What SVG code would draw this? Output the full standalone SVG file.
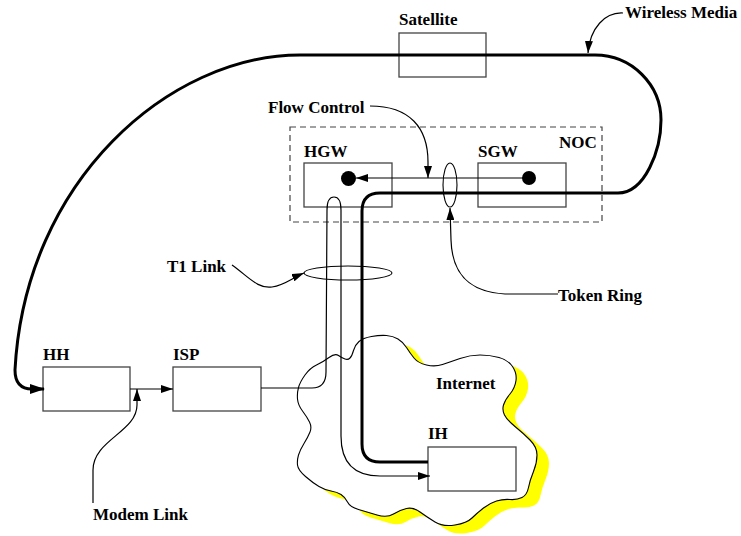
<svg xmlns="http://www.w3.org/2000/svg" width="741" height="536" viewBox="0 0 741 536">
<defs>
<style>
text{font-family:"Liberation Serif","Times New Roman",serif;font-weight:bold;font-size:17px;fill:#000}
.box{fill:#fff;stroke:#444;stroke-width:1.3}
.thin{fill:none;stroke:#000;stroke-width:1.2}
.thick{fill:none;stroke:#000;stroke-width:3}
</style>
<marker id="ar" markerUnits="userSpaceOnUse" markerWidth="12" markerHeight="8" refX="12" refY="4" orient="auto"><path d="M0,0 L12,4 L0,8 Z" fill="#000"/></marker>
<marker id="arb" markerUnits="userSpaceOnUse" markerWidth="15" markerHeight="10" refX="14" refY="5" orient="auto"><path d="M0,0 L15,5 L0,10 Z" fill="#000"/></marker>
</defs>
<rect width="741" height="536" fill="#fff"/>

<g id="internet">
<path id="cloud" d="M359,341.5 Q363,338 371.5,336.5 Q380,335 386.5,335.5 Q393,336 398,339 Q403,342 406.5,347.5 Q410,353 414,358 Q418,363 426.5,365 Q435,367 442.5,364.5 Q450,362 460,358.5 Q470,355 480,355 Q490,355 499,357.5 Q508,360 512.5,366.5 Q517,373 516,380.5 Q515,388 510,394 Q505,400 503.5,405 Q502,410 504.5,415 Q507,420 515,426.5 Q523,433 530,440 Q537,447 537,455 Q537,463 533.5,471.5 Q530,480 528.5,487.5 Q527,495 522,497.5 Q517,500 510,499.5 Q503,499 496.5,501 Q490,503 483.5,508 Q477,513 472,518 Q467,523 455,525 Q443,527 435,522 Q427,517 420,512 Q413,507 406.5,508.5 Q400,510 393.5,514 Q387,518 377,515 Q367,512 358.5,509.5 Q350,507 347.5,502 Q345,497 341,494.5 Q337,492 331,491 Q325,490 319,486.5 Q313,483 305.5,476.5 Q298,470 297.5,465 Q297,460 298.5,455 Q300,450 304,443.5 Q308,437 310,432 Q312,427 309.5,422 Q307,417 302.5,411 Q298,405 297.5,399 Q297,393 298.5,387.5 Q300,382 305,375 Q310,368 316.5,365 Q323,362 329,357.5 Q335,353 338.5,355.5 Q342,358 345,359 Q348,360 350,358 Q352,356 353.5,350.5 Q355,345 359,341.5 Z" fill="#ffff00" stroke="none" transform="translate(12,8)"/>
<path d="M359,341.5 Q363,338 371.5,336.5 Q380,335 386.5,335.5 Q393,336 398,339 Q403,342 406.5,347.5 Q410,353 414,358 Q418,363 426.5,365 Q435,367 442.5,364.5 Q450,362 460,358.5 Q470,355 480,355 Q490,355 499,357.5 Q508,360 512.5,366.5 Q517,373 516,380.5 Q515,388 510,394 Q505,400 503.5,405 Q502,410 504.5,415 Q507,420 515,426.5 Q523,433 530,440 Q537,447 537,455 Q537,463 533.5,471.5 Q530,480 528.5,487.5 Q527,495 522,497.5 Q517,500 510,499.5 Q503,499 496.5,501 Q490,503 483.5,508 Q477,513 472,518 Q467,523 455,525 Q443,527 435,522 Q427,517 420,512 Q413,507 406.5,508.5 Q400,510 393.5,514 Q387,518 377,515 Q367,512 358.5,509.5 Q350,507 347.5,502 Q345,497 341,494.5 Q337,492 331,491 Q325,490 319,486.5 Q313,483 305.5,476.5 Q298,470 297.5,465 Q297,460 298.5,455 Q300,450 304,443.5 Q308,437 310,432 Q312,427 309.5,422 Q307,417 302.5,411 Q298,405 297.5,399 Q297,393 298.5,387.5 Q300,382 305,375 Q310,368 316.5,365 Q323,362 329,357.5 Q335,353 338.5,355.5 Q342,358 345,359 Q348,360 350,358 Q352,356 353.5,350.5 Q355,345 359,341.5 Z" fill="#fff" stroke="#000" stroke-width="1.1"/>
<text x="436" y="389">Internet</text>
</g>

<g id="noc">
<rect x="290" y="127" width="312" height="95" fill="none" stroke="#444" stroke-width="1.2" stroke-dasharray="6 4"/>
<text x="559" y="148">NOC</text>
</g>

<g id="satellite">
<rect class="box" x="399" y="33" width="87" height="44"/>
<text x="399" y="25">Satellite</text>
</g>

<g id="hgw">
<rect class="box" x="304" y="163" width="88" height="44"/>
<text x="304" y="157">HGW</text>
</g>

<g id="sgw">
<rect class="box" x="478" y="163" width="88" height="44"/>
<text x="478" y="157">SGW</text>
</g>

<g id="hh">
<rect class="box" x="43" y="367" width="87" height="44"/>
<text x="43" y="360">HH</text>
</g>

<g id="isp">
<rect class="box" x="173" y="367" width="88" height="44"/>
<text x="173" y="360">ISP</text>
</g>

<g id="ih">
<rect class="box" x="428" y="447" width="88" height="44"/>
<text x="428" y="439">IH</text>
</g>

<g id="connectors">
<path class="thick" d="M428,462 L380,462 Q362,462 362,444 L362,211 Q362,193 380,193 L618,193 C645,193 661,150 661,120 C661,85 632,55 595,55 L300,55 C170,55 25,180 15,370 Q15,389 32,389 L44,389" marker-end="url(#arb)"/>
<path class="thin" d="M261,388 L312,388 Q326,388 326,372 L327,210 Q327,197 334,197 Q341,197 341,210 L341,436 Q341,476 380,476 L430,476" marker-end="url(#ar)"/>
<path class="thin" d="M130,389 L173,389" marker-end="url(#ar)"/>
<path class="thin" d="M529,178 L356,178" marker-end="url(#ar)"/>
<path class="thin" d="M370,106 C410,106 428,128 428,162 L428,178" marker-end="url(#ar)"/>
<path class="thin" d="M558,294 L505,294 C470,292 452,275 451,240 L450,208" marker-end="url(#ar)"/>
<path class="thin" d="M232,265 C250,278 258,289 272,287 C285,285 292,278 304,273" marker-end="url(#ar)"/>
<path class="thin" d="M93,503 L93,470 C93,440 137,432 137,405 L137,389" marker-end="url(#ar)"/>
<path class="thin" d="M623,13 C605,12 590,28 588,53" marker-end="url(#ar)"/>
<ellipse cx="450" cy="185" rx="7" ry="22" fill="none" stroke="#000" stroke-width="1.1"/>
<ellipse cx="348" cy="273" rx="44" ry="7" fill="none" stroke="#000" stroke-width="1.1"/>
<circle cx="348.5" cy="178.5" r="7.5" fill="#000"/>
<circle cx="529" cy="178" r="7" fill="#000"/>
</g>

<g id="labels">
<text x="625" y="18">Wireless Media</text>
<text x="268" y="113">Flow Control</text>
<text x="167" y="272">T1 Link</text>
<text x="558" y="301">Token Ring</text>
<text x="93" y="520">Modem Link</text>
</g>
</svg>
